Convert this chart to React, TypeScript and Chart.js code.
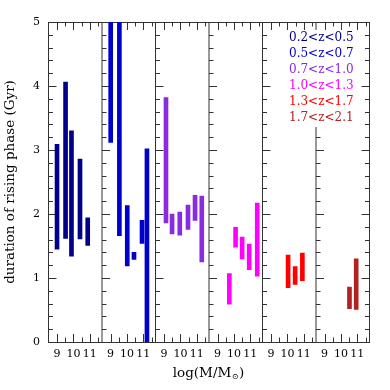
import React, { useEffect, useRef } from "react";
import { Chart, registerables } from "chart.js";

Chart.register(...registerables);

// ---- data ----
const panelLabels = ["0.2<z<0.5", "0.5<z<0.7", "0.7<z<1.0", "1.0<z<1.3", "1.3<z<1.7", "1.7<z<2.1"];
const panelColors = ["#00008B", "#0000CD", "#8A2BE2", "#FF00FF", "#FF0000", "#B22222"];

const mass1 = [9.0, 9.52, 9.88, 10.4, 10.87];
const low1 = [1.45, 1.62, 1.34, 1.61, 1.51];
const high1 = [3.09, 4.06, 3.3, 2.86, 1.94];

const mass2 = [9.01, 9.54, 10.02, 10.43, 10.92, 11.22];
const low2 = [3.12, 1.66, 1.19, 1.29, 1.54, 0.0];
const high2 = [5.6, 5.6, 2.13, 1.4, 1.9, 3.02];

const mass3 = [9.12, 9.49, 9.96, 10.46, 10.89, 11.3];
const low3 = [1.86, 1.69, 1.67, 1.76, 1.9, 1.25];
const high3 = [3.82, 2.0, 2.03, 2.14, 2.29, 2.28];

const mass4 = [9.72, 10.1, 10.5, 10.93, 11.42];
const low4 = [0.59, 1.48, 1.3, 1.13, 1.03];
const high4 = [1.07, 1.79, 1.64, 1.53, 2.17];

const mass5 = [10.04, 10.47, 10.91];
const low5 = [0.85, 0.9, 0.96];
const high5 = [1.36, 1.18, 1.39];

const mass6 = [10.52, 10.93];
const low6 = [0.52, 0.51];
const high6 = [0.86, 1.3];

const xMajorTicks = [9, 10, 11];
const xMinorTicks = [9.5, 10.5, 11.5];
const xMin = 8.45;
const xMax = 11.71;
const yMin = 0;
const yMax = 5;
const yMinorStep = 0.2;

const yTitle = "duration of rising phase (Gyr)";
const xTitleMain = "log(M/M";
const xTitleSub = "\u2299";
const xTitleEnd = ")";

const SERIF = "'DejaVu Serif', serif";
const FRAME = "#333333";

const panels = [
  { m: mass1, lo: low1, hi: high1 },
  { m: mass2, lo: low2, hi: high2 },
  { m: mass3, lo: low3, hi: high3 },
  { m: mass4, lo: low4, hi: high4 },
  { m: mass5, lo: low5, hi: high5 },
  { m: mass6, lo: low6, hi: high6 },
];

const decorPlugin = {
  id: "panelDecor",
  beforeDatasetsDraw(chart: any) {
    const ctx = chart.ctx;
    const { top, bottom, left, right } = chart.chartArea;
    const ys = chart.scales.y;
    ctx.save();
    ctx.strokeStyle = FRAME;
    ctx.lineWidth = 1;
    ctx.beginPath();
    ctx.moveTo(left, top + 0.5);
    ctx.lineTo(right + 1, top + 0.5);
    ctx.moveTo(left, bottom + 0.5);
    ctx.lineTo(right + 1, bottom + 0.5);
    const yVals: number[] = [];
    for (let k = 0; k <= Math.round((yMax - yMin) / yMinorStep); k++) yVals.push(yMin + k * yMinorStep);
    panels.forEach((_, i) => {
      const xs = chart.scales["x" + i];
      const xl = xs.left + 0.5;
      ctx.moveTo(xl, top);
      ctx.lineTo(xl, bottom + 1);
      yVals.forEach((v) => {
        const py = Math.round(ys.getPixelForValue(v)) + 0.5;
        const major = Math.abs(v - Math.round(v)) < 1e-6;
        const len = major ? 8 : 4.5;
        ctx.moveTo(xl, py);
        ctx.lineTo(xl + len, py);
        if (i === panels.length - 1) {
          const xr = xs.right + 0.5;
          ctx.moveTo(xr, py);
          ctx.lineTo(xr - len, py);
        }
      });
      if (i === panels.length - 1) {
        const xr = xs.right + 0.5;
        ctx.moveTo(xr, top);
        ctx.lineTo(xr, bottom + 1);
      }
      const drawX = (v: number, len: number) => {
        const px = Math.round(xs.getPixelForValue(v)) + 0.5;
        ctx.moveTo(px, bottom);
        ctx.lineTo(px, bottom - len);
        ctx.moveTo(px, top);
        ctx.lineTo(px, top + len);
      };
      xMajorTicks.forEach((v) => drawX(v, 8));
      xMinorTicks.forEach((v) => drawX(v, 4.5));
    });
    ctx.stroke();
    ctx.restore();
  },
  afterDraw(chart: any) {
    const ctx = chart.ctx;
    const { top, bottom, left, right } = chart.chartArea;
    ctx.save();
    // legend box
    const lx = right - 80;
    ctx.fillStyle = "#ffffff";
    ctx.fillRect(lx - 4, top + 8, 72, 97);
    ctx.font = `12px ${SERIF}`;
    ctx.textAlign = "left";
    ctx.textBaseline = "middle";
    chart.data.datasets.forEach((ds: any, i: number) => {
      ctx.fillStyle = ds.backgroundColor;
      ctx.fillText(ds.label, lx, top + 16 + i * 16.05);
    });
    // x title
    ctx.fillStyle = "#000";
    ctx.font = `13.5px ${SERIF}`;
    const w1 = ctx.measureText(xTitleMain).width;
    const w3 = ctx.measureText(xTitleEnd).width;
    ctx.font = `8px ${SERIF}`;
    const w2 = ctx.measureText(xTitleSub).width;
    const total = w1 + w2 + w3 + 1;
    const x0 = (left + right) / 2 - total / 2;
    const ty = bottom + 31;
    ctx.textBaseline = "middle";
    ctx.font = `13.5px ${SERIF}`;
    ctx.fillText(xTitleMain, x0, ty);
    ctx.font = `8px ${SERIF}`;
    ctx.fillText(xTitleSub, x0 + w1 + 0.5, ty + 4);
    ctx.font = `13.5px ${SERIF}`;
    ctx.fillText(xTitleEnd, x0 + w1 + w2 + 1, ty);
    ctx.restore();
  },
};

export default function App() {
  const ref = useRef<HTMLCanvasElement | null>(null);
  useEffect(() => {
    if (!ref.current) return;
    const scales: any = {
      y: {
        type: "linear",
        position: "left",
        min: yMin,
        max: yMax,
        grid: { display: false, drawTicks: false },
        border: { display: false },
        ticks: { stepSize: 1, color: "#000", font: { family: SERIF, size: 11 }, padding: 8 },
        title: {
          display: true,
          text: yTitle,
          color: "#000",
          font: { family: SERIF, size: 13.5 },
          padding: { top: 2, bottom: 0 },
        },
        afterFit: (s: any) => {
          s.width = 48;
        },
      },
    };
    panels.forEach((_, i) => {
      scales["x" + i] = {
        type: "linear",
        axis: "x",
        position: "bottom",
        stack: "panels",
        stackWeight: 1,
        offset: false,
        min: xMin,
        max: xMax,
        grid: { display: false, drawTicks: false, offset: false },
        border: { display: false },
        ticks: {
          color: "#000",
          font: { family: SERIF, size: 11 },
          autoSkip: false,
          maxRotation: 0,
          padding: 6,
        },
        afterBuildTicks: (s: any) => {
          s.ticks = xMajorTicks.map((v) => ({ value: v }));
        },
        afterFit: (s: any) => {
          s.height = 48;
        },
      };
    });
    const datasets = panels.map((p, i) => ({
      type: "bar",
      label: panelLabels[i],
      xAxisID: "x" + i,
      yAxisID: "y",
      data: p.m.map((m, k) => ({ x: m, y: [p.lo[k], p.hi[k]] })),
      backgroundColor: panelColors[i],
      borderWidth: 0,
      grouped: false,
      barPercentage: 1,
      categoryPercentage: 1,
      maxBarThickness: 4,
      clip: 0,
    }));
    const chart = new Chart(ref.current, {
      type: "bar",
      data: { datasets } as any,
      options: {
        responsive: false,
        animation: false,
        devicePixelRatio: 1,
        layout: { padding: { top: 22, right: 21, left: 0, bottom: 0 } },
        plugins: { legend: { display: false }, tooltip: { enabled: false } },
        scales,
      } as any,
      plugins: [decorPlugin],
    });
    return () => chart.destroy();
  }, []);
  return (
    <div style={{ position: "absolute", left: 0, top: 0, width: 390, height: 390, background: "#fff" }}>
      <canvas ref={ref} width={390} height={390} style={{ display: "block", width: 390, height: 390 }} />
    </div>
  );
}
